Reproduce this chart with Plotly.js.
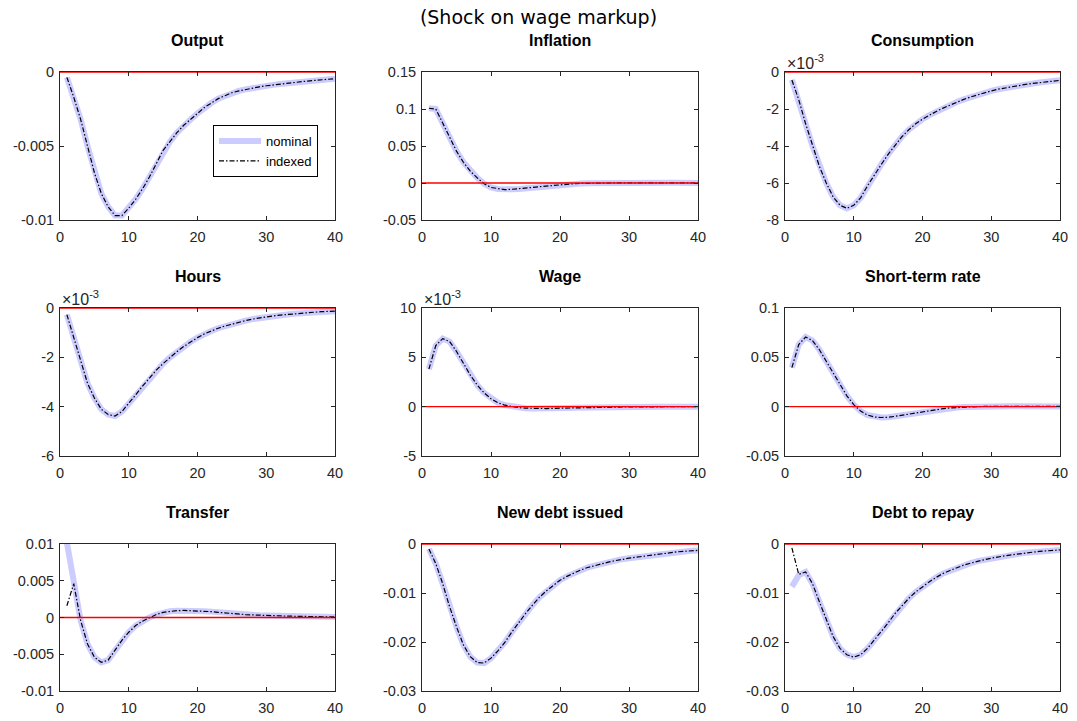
<!DOCTYPE html>
<html><head><meta charset="utf-8">
<script src="https://cdn.plot.ly/plotly-3.0.1.min.js"></script>
<style>html,body{margin:0;padding:0;background:#fff}#chart{width:1077px;height:721px}</style>
</head><body><div id="chart"></div>
<script>
// ---------- data ----------
const periods = [1,2,3,4,5,6,7,8,9,10,11,12,13,14,15,16,17,18,19,20,21,22,23,24,25,26,27,28,29,30,31,32,33,34,35,36,37,38,39,40];
const zeroRef = [0,40];
const zeroVals = [0,0];

const output = [-0.00036,-0.0017,-0.0032,-0.0050,-0.0068,-0.0082,-0.0091,-0.0097,-0.0097,-0.0092,-0.0086,-0.0079,-0.0071,-0.0062,-0.0053,-0.0047,-0.0041,-0.0036,-0.0032,-0.0028,-0.0024,-0.0021,-0.0018,-0.0016,-0.0014,-0.00128,-0.00117,-0.00107,-0.00100,-0.00093,-0.00087,-0.00081,-0.00076,-0.00071,-0.00066,-0.00061,-0.00057,-0.00053,-0.00049,-0.00045];
const inflation = [0.101,0.100,0.081,0.061,0.043,0.028,0.016,0.007,-0.001,-0.006,-0.008,-0.009,-0.0085,-0.008,-0.007,-0.006,-0.005,-0.004,-0.003,-0.0023,-0.0015,-0.001,-0.0006,-0.0003,-0.0001,0.0001,0.0002,0.0002,0.0003,0.0003,0.0003,0.0003,0.0003,0.0002,0.0002,0.0002,0.0002,0.0002,0.0001,0.0001];
const consumptionE3 = [-0.43,-1.5,-2.8,-4.0,-5.1,-6.0,-6.75,-7.2,-7.37,-7.2,-6.8,-6.15,-5.55,-5.0,-4.45,-3.95,-3.5,-3.12,-2.8,-2.55,-2.33,-2.13,-1.95,-1.78,-1.62,-1.48,-1.35,-1.23,-1.12,-1.02,-0.93,-0.86,-0.79,-0.73,-0.67,-0.62,-0.57,-0.53,-0.49,-0.45];
const hoursE3 = [-0.27,-1.2,-2.2,-3.05,-3.65,-4.1,-4.32,-4.38,-4.2,-3.88,-3.52,-3.17,-2.83,-2.52,-2.25,-2.0,-1.77,-1.56,-1.37,-1.2,-1.05,-0.93,-0.82,-0.73,-0.65,-0.58,-0.51,-0.45,-0.40,-0.36,-0.32,-0.29,-0.26,-0.23,-0.21,-0.19,-0.17,-0.15,-0.14,-0.13];
const wageE3 = [3.8,6.2,6.9,6.6,5.6,4.4,3.2,2.2,1.4,0.8,0.4,0.15,0.0,-0.1,-0.15,-0.18,-0.2,-0.19,-0.17,-0.15,-0.13,-0.11,-0.09,-0.07,-0.06,-0.05,-0.04,-0.03,-0.03,-0.02,-0.02,-0.01,-0.01,-0.01,-0.01,0,0,0,0,0];
const shortRate = [0.0396,0.063,0.0706,0.067,0.0577,0.0457,0.034,0.022,0.011,0.002,-0.0044,-0.0085,-0.0105,-0.011,-0.0108,-0.0098,-0.0087,-0.0074,-0.006,-0.0048,-0.0037,-0.0028,-0.002,-0.0013,-0.0008,-0.0004,-0.0001,0.0001,0.0002,0.0003,0.0003,0.0003,0.0003,0.0003,0.0003,0.0003,0.0002,0.0002,0.0002,0.0002];
const transferNominal = [0.0102,0.0052,-0.0004,-0.0036,-0.0054,-0.0061,-0.0058,-0.0045,-0.0031,-0.0020,-0.0011,-0.0005,0.0000,0.0004,0.0007,0.00085,0.00093,0.00096,0.00094,0.0009,0.00085,0.0008,0.0007,0.0006,0.0005,0.00045,0.0004,0.00035,0.0003,0.00027,0.00024,0.00021,0.00019,0.00017,0.00015,0.00013,0.00012,0.0001,0.00009,0.00008];
const transferIndexed = [0.0016,0.0046,-0.0004,-0.0036,-0.0054,-0.0061,-0.0058,-0.0045,-0.0031,-0.0020,-0.0011,-0.0005,0.0000,0.0004,0.0007,0.00085,0.00093,0.00096,0.00094,0.0009,0.00085,0.0008,0.0007,0.0006,0.0005,0.00045,0.0004,0.00035,0.0003,0.00027,0.00024,0.00021,0.00019,0.00017,0.00015,0.00013,0.00012,0.0001,0.00009,0.00008];
const newDebt = [-0.001,-0.004,-0.0081,-0.0128,-0.0169,-0.0206,-0.023,-0.0242,-0.0243,-0.0233,-0.0218,-0.0201,-0.018,-0.016,-0.0142,-0.0125,-0.0109,-0.0096,-0.0084,-0.0074,-0.0066,-0.0059,-0.0053,-0.0048,-0.0044,-0.004,-0.0037,-0.0034,-0.0031,-0.0029,-0.0027,-0.0025,-0.0023,-0.0021,-0.0019,-0.0018,-0.0016,-0.0015,-0.0014,-0.0013];
const debtRepayNominal = [-0.0087,-0.0064,-0.0057,-0.0081,-0.0118,-0.0155,-0.0189,-0.0213,-0.0226,-0.0231,-0.0226,-0.0213,-0.0196,-0.0179,-0.0161,-0.0142,-0.0126,-0.0111,-0.0098,-0.0087,-0.0077,-0.0068,-0.006,-0.0054,-0.0048,-0.0043,-0.0039,-0.0035,-0.0032,-0.0029,-0.0026,-0.0024,-0.0022,-0.002,-0.0018,-0.0017,-0.0015,-0.0014,-0.0013,-0.0012];
const debtRepayIndexed = [-0.0008,-0.0062,-0.0057,-0.0081,-0.0118,-0.0155,-0.0189,-0.0213,-0.0226,-0.0231,-0.0226,-0.0213,-0.0196,-0.0179,-0.0161,-0.0142,-0.0126,-0.0111,-0.0098,-0.0087,-0.0077,-0.0068,-0.006,-0.0054,-0.0048,-0.0043,-0.0039,-0.0035,-0.0032,-0.0029,-0.0026,-0.0024,-0.0022,-0.002,-0.0018,-0.0017,-0.0015,-0.0014,-0.0013,-0.0012];

// ---------- titles and ticks ----------
const panelTitles = ['Output','Inflation','Consumption','Hours','Wage','Short-term rate','Transfer','New debt issued','Debt to repay'];
const seriesNames = ['nominal','indexed'];
const xTickVals = [0,10,20,30,40];
const xTickText = ['0','10','20','30','40'];
const outputTicks = [-0.01,-0.005,0];            const outputTickText = ['-0.01','-0.005','0'];
const inflationTicks = [-0.05,0,0.05,0.1,0.15];  const inflationTickText = ['-0.05','0','0.05','0.1','0.15'];
const consumptionTicks = [-8,-6,-4,-2,0];        const consumptionTickText = ['-8','-6','-4','-2','0'];
const hoursTicks = [-6,-4,-2,0];                 const hoursTickText = ['-6','-4','-2','0'];
const wageTicks = [-5,0,5,10];                   const wageTickText = ['-5','0','5','10'];
const rateTicks = [-0.05,0,0.05,0.1];            const rateTickText = ['-0.05','0','0.05','0.1'];
const transferTicks = [-0.01,-0.005,0,0.005,0.01]; const transferTickText = ['-0.01','-0.005','0','0.005','0.01'];
const debtTicks = [-0.03,-0.02,-0.01,0];         const debtTickText = ['-0.03','-0.02','-0.01','0'];

const panels = [
  {nom: output, idx: output, ticks: outputTicks, text: outputTickText, exp: false},
  {nom: inflation, idx: inflation, ticks: inflationTicks, text: inflationTickText, exp: false},
  {nom: consumptionE3, idx: consumptionE3, ticks: consumptionTicks, text: consumptionTickText, exp: true},
  {nom: hoursE3, idx: hoursE3, ticks: hoursTicks, text: hoursTickText, exp: true},
  {nom: wageE3, idx: wageE3, ticks: wageTicks, text: wageTickText, exp: true},
  {nom: shortRate, idx: shortRate, ticks: rateTicks, text: rateTickText, exp: false},
  {nom: transferNominal, idx: transferIndexed, ticks: transferTicks, text: transferTickText, exp: false},
  {nom: newDebt, idx: newDebt, ticks: debtTicks, text: debtTickText, exp: false},
  {nom: debtRepayNominal, idx: debtRepayIndexed, ticks: debtTicks, text: debtTickText, exp: false}
];

// ---------- layout geometry ----------
const W = 1077, H = 721;
const colPx = [[60,335],[422,698],[785,1060]];
const rowPx = [[72,220],[308,456],[544,691]];
const axisColor = '#262626';
const fontFam = 'Liberation Sans, Arial, Helvetica, sans-serif';

const traces = [];
const layout = {
  width: W, height: H,
  margin: {l:0, r:0, t:0, b:0},
  paper_bgcolor: '#fff', plot_bgcolor: '#fff',
  showlegend: true,
  title: {text: '(Shock on wage markup)', font: {family: 'DejaVu Sans', size: 19, color: '#000'},
          x: 0.5, xref: 'paper', xanchor: 'center', y: 1 - 17/H, yref: 'paper', yanchor: 'middle'},
  legend: {x: 213/W, y: 1 - 125/H, xanchor: 'left', yanchor: 'top', bgcolor: '#fff',
           bordercolor: '#000', borderwidth: 1, font: {family: fontFam, size: 13, color: '#000'},
           itemwidth: 42, tracegroupgap: 0},
  annotations: [],
  hovermode: false
};

panels.forEach((p, i) => {
  const n = i + 1;
  const r = Math.floor(i / 3), c = i % 3;
  const xa = 'x' + (n === 1 ? '' : n), ya = 'y' + (n === 1 ? '' : n);
  const xkey = 'xaxis' + (n === 1 ? '' : n), ykey = 'yaxis' + (n === 1 ? '' : n);
  layout[xkey] = {
    domain: [colPx[c][0]/W, colPx[c][1]/W], anchor: ya,
    range: [0, 40], tickvals: xTickVals, ticktext: xTickText,
    ticks: 'inside', ticklen: 4, tickcolor: axisColor, tickwidth: 1,
    showline: true, linecolor: axisColor, linewidth: 1, mirror: 'allticks',
    showgrid: false, zeroline: false, fixedrange: true,
    tickfont: {family: fontFam, size: 14.5, color: axisColor}, ticklabelstandoff: 4
  };
  layout[ykey] = {
    domain: [1 - rowPx[r][1]/H, 1 - rowPx[r][0]/H], anchor: xa,
    range: [p.ticks[0], p.ticks[p.ticks.length-1]], tickvals: p.ticks, ticktext: p.text,
    ticks: 'inside', ticklen: 4, tickcolor: axisColor, tickwidth: 1,
    showline: true, linecolor: axisColor, linewidth: 1, mirror: 'allticks',
    showgrid: false, zeroline: false, fixedrange: true,
    tickfont: {family: fontFam, size: 14.5, color: axisColor}, ticklabelstandoff: 2
  };
  traces.push({x: periods, y: p.nom, xaxis: xa, yaxis: ya, type: 'scatter', mode: 'lines',
    name: seriesNames[0], showlegend: n === 1,
    line: {color: '#ccccff', width: 6}});
  traces.push({x: periods, y: p.idx, xaxis: xa, yaxis: ya, type: 'scatter', mode: 'lines',
    name: seriesNames[1], showlegend: n === 1,
    line: {color: '#000', width: 1.2, dash: '5px,2px,1.5px,2px'}});
  traces.push({x: zeroRef, y: zeroVals, xaxis: xa, yaxis: ya, type: 'scatter', mode: 'lines',
    showlegend: false, line: {color: '#ff0000', width: 1.3}});
  layout.annotations.push({text: panelTitles[i], xref: xa + ' domain', yref: ya + ' domain',
    x: 0.5, y: 1, xanchor: 'center', yanchor: 'middle', yshift: 31.5, showarrow: false,
    font: {family: fontFam, size: 16, weight: 'bold', color: '#000'}});
  if (p.exp) {
    layout.annotations.push({text: '×10<sup>-3</sup>', xref: xa + ' domain', yref: ya + ' domain',
      x: 0, y: 1, xanchor: 'left', yanchor: 'bottom', yshift: -2, showarrow: false,
      font: {family: fontFam, size: 16, color: axisColor}});
  }
});

Plotly.newPlot('chart', traces, layout, {staticPlot: true, displayModeBar: false});
</script>
</body></html>
